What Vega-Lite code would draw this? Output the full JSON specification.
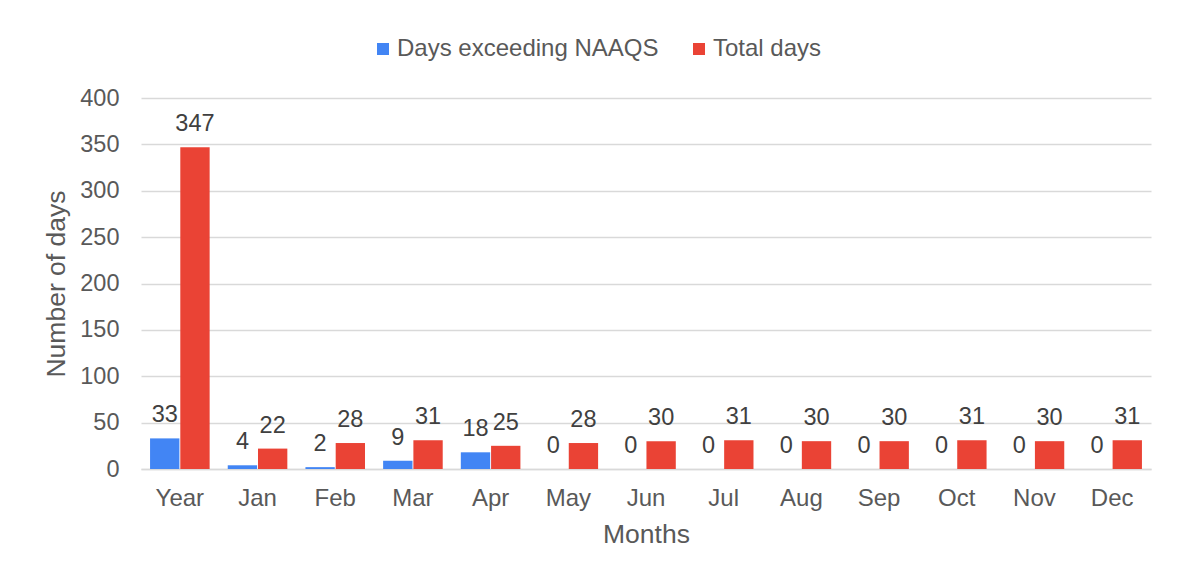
{
 "$schema": "https://vega.github.io/schema/vega-lite/v6.json",
 "autosize": {"type": "none"},
 "width": 1010,
 "height": 371,
 "padding": {"left": 141, "top": 98, "right": 26, "bottom": 108},
 "background": "white",
 "config": {"font": "Liberation Sans", "view": {"stroke": null}},
 "data": {"values": [
  {"month": "Year", "series": "Days exceeding NAAQS", "days": 33},
  {"month": "Year", "series": "Total days", "days": 347},
  {"month": "Jan", "series": "Days exceeding NAAQS", "days": 4},
  {"month": "Jan", "series": "Total days", "days": 22},
  {"month": "Feb", "series": "Days exceeding NAAQS", "days": 2},
  {"month": "Feb", "series": "Total days", "days": 28},
  {"month": "Mar", "series": "Days exceeding NAAQS", "days": 9},
  {"month": "Mar", "series": "Total days", "days": 31},
  {"month": "Apr", "series": "Days exceeding NAAQS", "days": 18},
  {"month": "Apr", "series": "Total days", "days": 25},
  {"month": "May", "series": "Days exceeding NAAQS", "days": 0},
  {"month": "May", "series": "Total days", "days": 28},
  {"month": "Jun", "series": "Days exceeding NAAQS", "days": 0},
  {"month": "Jun", "series": "Total days", "days": 30},
  {"month": "Jul", "series": "Days exceeding NAAQS", "days": 0},
  {"month": "Jul", "series": "Total days", "days": 31},
  {"month": "Aug", "series": "Days exceeding NAAQS", "days": 0},
  {"month": "Aug", "series": "Total days", "days": 30},
  {"month": "Sep", "series": "Days exceeding NAAQS", "days": 0},
  {"month": "Sep", "series": "Total days", "days": 30},
  {"month": "Oct", "series": "Days exceeding NAAQS", "days": 0},
  {"month": "Oct", "series": "Total days", "days": 31},
  {"month": "Nov", "series": "Days exceeding NAAQS", "days": 0},
  {"month": "Nov", "series": "Total days", "days": 30},
  {"month": "Dec", "series": "Days exceeding NAAQS", "days": 0},
  {"month": "Dec", "series": "Total days", "days": 31}
 ]},
 "encoding": {
  "x": {
   "field": "month", "type": "nominal",
   "sort": ["Year", "Jan", "Feb", "Mar", "Apr", "May", "Jun", "Jul", "Aug", "Sep", "Oct", "Nov", "Dec"],
   "scale": {"paddingInner": 0.233, "paddingOuter": 0.1165},
   "axis": {
    "title": "Months", "labelAngle": 0, "labelFontSize": 24, "labelColor": "#595959",
    "labelPadding": 17, "ticks": false, "domainColor": "#d9d9d9", "domainWidth": 1.5,
    "titleFontSize": 26.5, "titleFontWeight": "normal", "titleColor": "#595959", "titlePadding": 11
   }
  },
  "xOffset": {
   "field": "series", "type": "nominal",
   "sort": ["Days exceeding NAAQS", "Total days"],
   "scale": {"paddingInner": 0.03}
  },
  "y": {
   "field": "days", "type": "quantitative",
   "scale": {"domain": [0, 400]},
   "axis": {
    "values": [0, 50, 100, 150, 200, 250, 300, 350, 400],
    "title": "Number of days", "grid": true, "gridColor": "#d9d9d9", "gridWidth": 1.5,
    "domain": false, "ticks": false, "labelFontSize": 23.5, "labelColor": "#595959",
    "labelPadding": 22, "titleFontSize": 26.5, "titleFontWeight": "normal",
    "titleColor": "#595959", "titlePadding": 9
   }
  }
 },
 "layer": [
  {
   "mark": {"type": "bar"},
   "encoding": {
    "color": {
     "field": "series", "type": "nominal",
     "scale": {"domain": ["Days exceeding NAAQS", "Total days"], "range": ["#4285F4", "#EA4335"]},
     "legend": {
      "title": null, "orient": "none", "direction": "horizontal", "columns": 2,
      "legendX": 230, "legendY": -61, "symbolType": "square", "symbolSize": 144,
      "symbolStrokeWidth": 0, "labelFontSize": 24, "labelColor": "#595959",
      "labelOffset": 2, "columnPadding": 28, "padding": 0, "labelLimit": 0
     }
    }
   }
  },
  {
   "mark": {"type": "text", "baseline": "alphabetic", "dy": -16, "fontSize": 23.5, "color": "#404040"},
   "encoding": {"text": {"field": "days", "type": "quantitative"}}
  }
 ]
}
